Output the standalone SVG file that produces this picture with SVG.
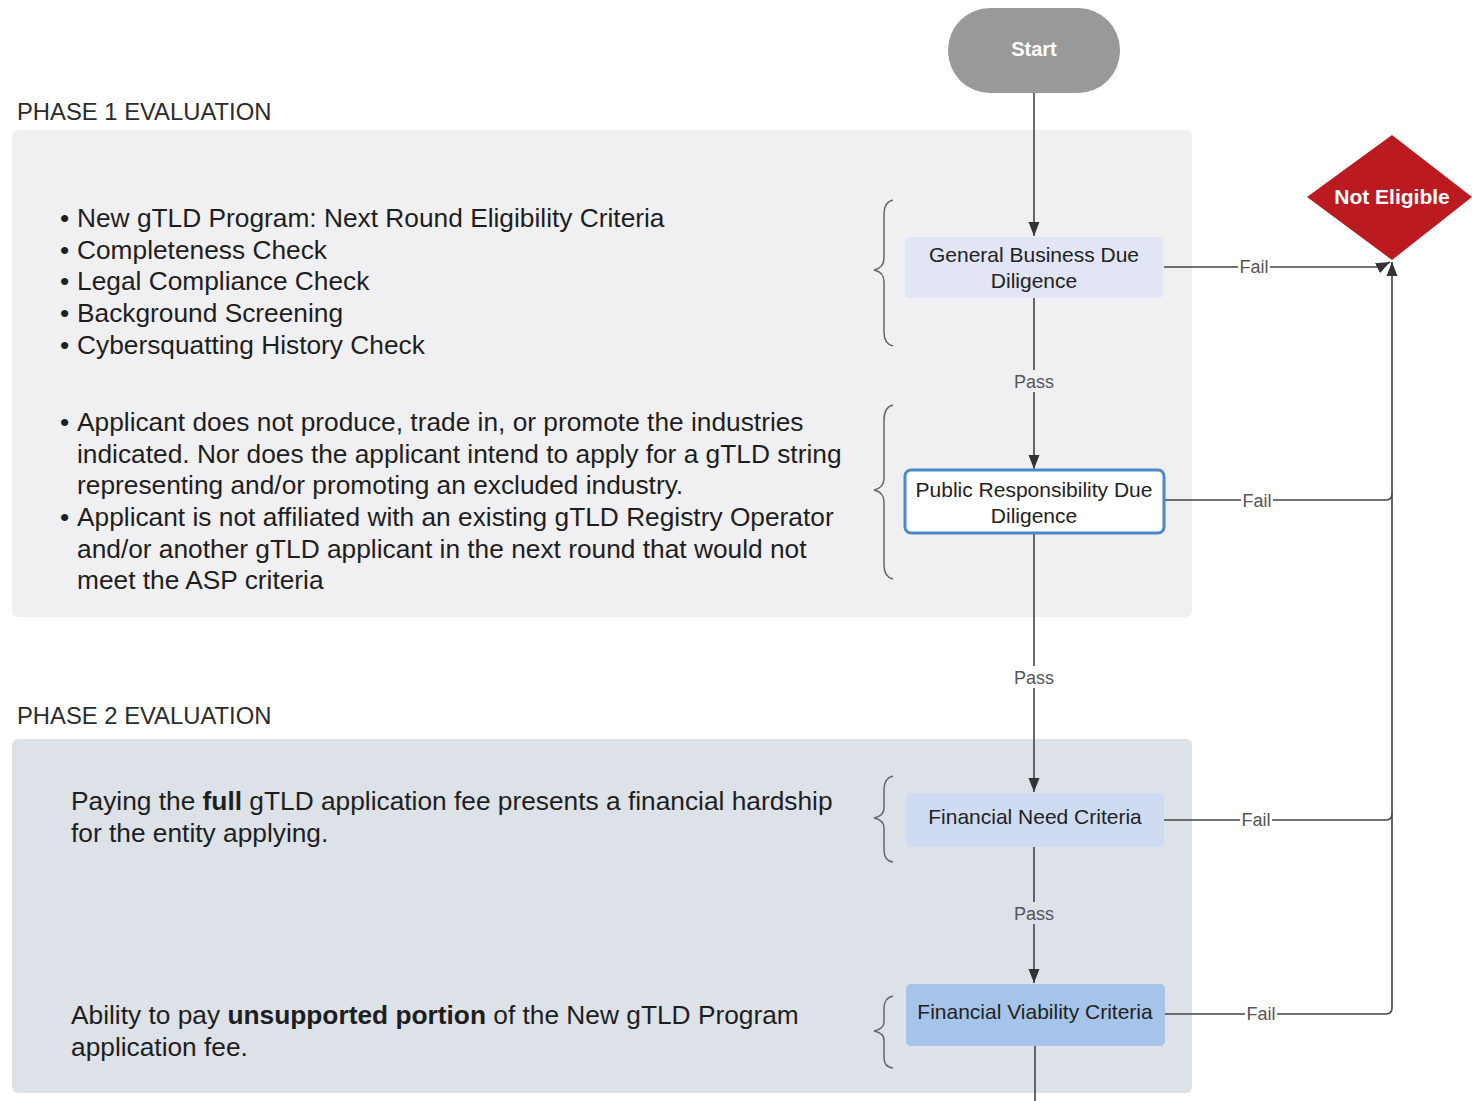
<svg xmlns="http://www.w3.org/2000/svg" width="1472" height="1101" viewBox="0 0 1472 1101">
<style>
text{font-family:"Liberation Sans",Arial,sans-serif}
.phase{font-size:23.8px;fill:#2b2b2b}
.body{font-size:26.3px;fill:#1e1e1e}
.node{font-size:21px;fill:#222;text-anchor:middle}
.lbl{font-size:18px;fill:#555;text-anchor:middle}
.conn{fill:none;stroke:#444;stroke-width:1.6}
.brace{fill:none;stroke:#666;stroke-width:1.5}
</style>
<defs>
<marker id="arr" markerUnits="userSpaceOnUse" viewBox="0 0 14 12" markerWidth="14" markerHeight="12" refX="14" refY="6" orient="auto">
<path d="M0,0.5 L14,6 L0,11.5 z" fill="#333"/>
</marker>
</defs>
<rect width="1472" height="1101" fill="#ffffff"/>

<g id="phase1">
<text class="phase" x="17" y="120">PHASE 1 EVALUATION</text>
<rect x="12" y="130" width="1180" height="487" rx="6" fill="#f0f0f3"/>
<g class="body">
<text x="60" y="227">•</text><text x="77" y="227">New gTLD Program: Next Round Eligibility Criteria</text>
<text x="60" y="259">•</text><text x="77" y="259">Completeness Check</text>
<text x="60" y="290">•</text><text x="77" y="290">Legal Compliance Check</text>
<text x="60" y="322">•</text><text x="77" y="322">Background Screening</text>
<text x="60" y="354">•</text><text x="77" y="354">Cybersquatting History Check</text>
<text x="60" y="431">•</text><text x="77" y="431">Applicant does not produce, trade in, or promote the industries</text>
<text x="77" y="463">indicated. Nor does the applicant intend to apply for a gTLD string</text>
<text x="77" y="494">representing and/or promoting an excluded industry.</text>
<text x="60" y="526">•</text><text x="77" y="526">Applicant is not affiliated with an existing gTLD Registry Operator</text>
<text x="77" y="558">and/or another gTLD applicant in the next round that would not</text>
<text x="77" y="589">meet the ASP criteria</text>
</g>
<path class="brace" d="M893,200 Q884,202 884,214 L884,258 Q884,268 874,270 Q884,272 884,282 L884,332 Q884,344 893,346"/>
<path class="brace" d="M893,405 Q884,407 884,420 L884,478 Q884,488 874,490 Q884,492 884,502 L884,565 Q884,577 893,579"/>
</g>

<g id="phase2">
<text class="phase" x="17" y="724">PHASE 2 EVALUATION</text>
<rect x="12" y="739" width="1180" height="354" rx="6" fill="#dde1e8"/>
<g class="body">
<text x="71" y="810">Paying the <tspan font-weight="bold">full</tspan> gTLD application fee presents a financial hardship</text>
<text x="71" y="842">for the entity applying.</text>
<text x="71" y="1024">Ability to pay <tspan font-weight="bold">unsupported portion</tspan> of the New gTLD Program</text>
<text x="71" y="1056">application fee.</text>
</g>
<path class="brace" d="M893,776 Q884,778 884,790 L884,808 Q884,816 874,818 Q884,820 884,828 L884,850 Q884,861 893,862"/>
<path class="brace" d="M893,996 Q884,998 884,1008 L884,1022 Q884,1029 874,1031 Q884,1033 884,1040 L884,1058 Q884,1067 893,1068"/>
</g>

<g id="connectors">
<path class="conn" d="M1034,93 V236" marker-end="url(#arr)"/>
<path class="conn" d="M1034,298 V469" marker-end="url(#arr)"/>
<path class="conn" d="M1034,534 V792" marker-end="url(#arr)"/>
<path class="conn" d="M1034,847 V983" marker-end="url(#arr)"/>
<path class="conn" d="M1035,1046 V1101"/>
<path class="conn" d="M1164,267 L1380,267 L1390,262" marker-end="url(#arr)"/>
<path class="conn" d="M1165,500 H1386 Q1392,500 1392,494"/>
<path class="conn" d="M1164,820 H1386 Q1392,820 1392,814"/>
<path class="conn" d="M1165,1014 H1386 Q1392,1014 1392,1008 V262" marker-end="url(#arr)"/>
<rect x="1012" y="370" width="44" height="22" fill="#f0f0f3"/>
<text class="lbl" x="1034" y="388">Pass</text>
<rect x="1012" y="666" width="44" height="22" fill="#ffffff"/>
<text class="lbl" x="1034" y="684">Pass</text>
<rect x="1012" y="902" width="44" height="22" fill="#dde1e8"/>
<text class="lbl" x="1034" y="920">Pass</text>
<rect x="1238" y="256" width="32" height="20" fill="#ffffff"/>
<text class="lbl" x="1254" y="273">Fail</text>
<rect x="1241" y="490" width="32" height="20" fill="#ffffff"/>
<text class="lbl" x="1257" y="507">Fail</text>
<rect x="1240" y="809" width="32" height="20" fill="#ffffff"/>
<text class="lbl" x="1256" y="826">Fail</text>
<rect x="1245" y="1003" width="32" height="20" fill="#ffffff"/>
<text class="lbl" x="1261" y="1020">Fail</text>
</g>

<g id="start">
<rect x="948" y="8" width="172" height="85" rx="42" fill="#999999"/>
<text x="1034" y="56" font-size="20" font-weight="bold" fill="#ffffff" text-anchor="middle">Start</text>
</g>

<g id="not-eligible">
<polygon points="1392,135 1472,197 1392,260 1307,197" fill="#bb1a20"/>
<text x="1392" y="204" font-size="21" font-weight="bold" fill="#ffffff" text-anchor="middle">Not Eligible</text>
</g>

<g id="general-business">
<rect x="905" y="237" width="258" height="61" rx="4" fill="#e1e5f5"/>
<text class="node" x="1034" y="262">General Business Due</text>
<text class="node" x="1034" y="288">Diligence</text>
</g>

<g id="public-responsibility">
<rect x="905" y="470" width="259" height="63" rx="6" fill="#ffffff" stroke="#4a88c7" stroke-width="3"/>
<text class="node" x="1034" y="497">Public Responsibility Due</text>
<text class="node" x="1034" y="523">Diligence</text>
</g>

<g id="financial-need">
<rect x="906" y="793" width="258" height="54" rx="5" fill="#cfdaf3"/>
<text class="node" x="1035" y="824">Financial Need Criteria</text>
</g>

<g id="financial-viability">
<rect x="906" y="984" width="259" height="62" rx="5" fill="#a6c3ea"/>
<text class="node" x="1035" y="1019">Financial Viability Criteria</text>
</g>
</svg>
